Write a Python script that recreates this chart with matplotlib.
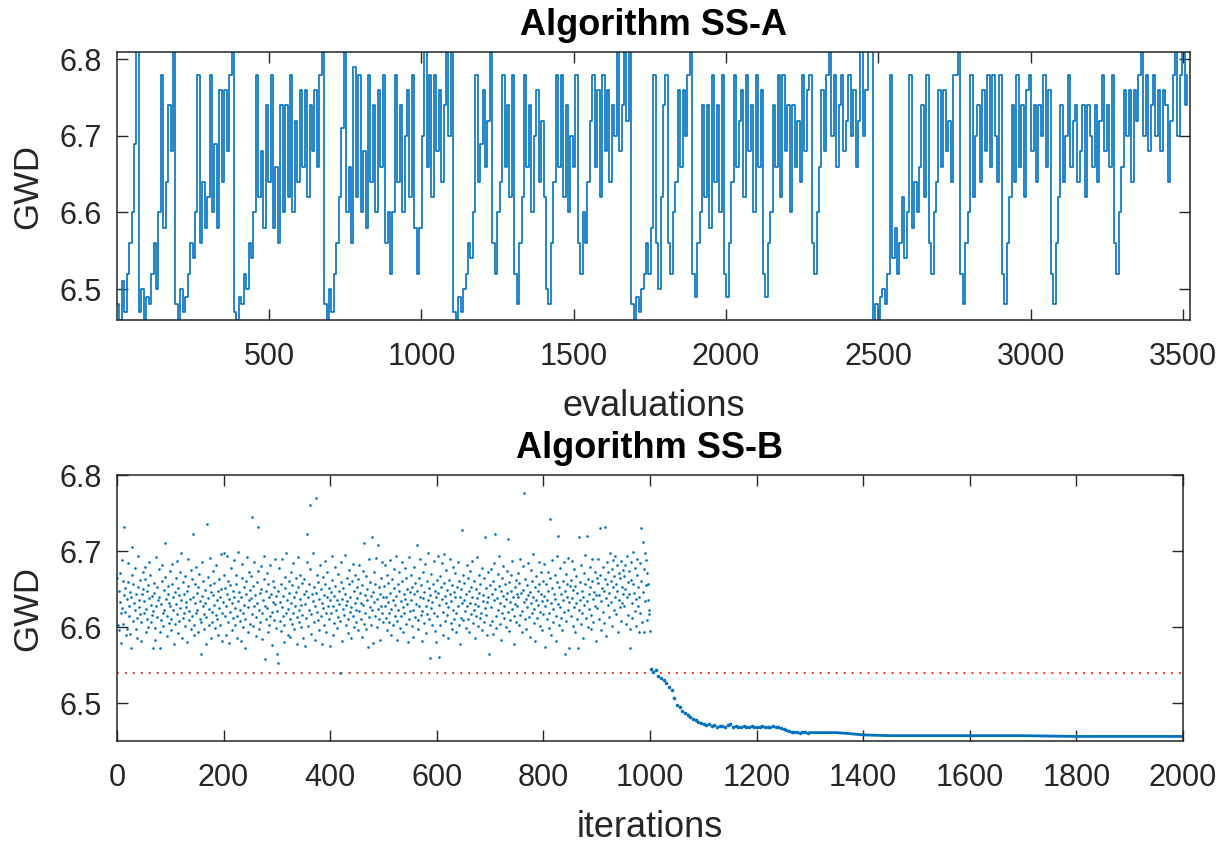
import numpy as np
import matplotlib
matplotlib.use('Agg')
import matplotlib.pyplot as plt

plt.rcParams['font.family'] = ['Liberation Sans', 'DejaVu Sans']

# ---- top panel: GWD per evaluation (one value every 8 evaluations), split at restarts
seg1 = [6.48, 6.46, 6.51, 6.47, 6.52, 6.56, 6.60, 6.69, 6.83]
seg2 = [6.47, 6.50, 6.46, 6.49, 6.48, 6.52, 6.56, 6.50, 6.60, 6.78, 6.58, 6.64, 6.74, 6.68, 6.83]
seg3 = [6.48, 6.46, 6.50, 6.47, 6.49, 6.52, 6.56, 6.54, 6.60, 6.78, 6.56, 6.64, 6.58, 6.62,
        6.78, 6.60, 6.69, 6.58, 6.76, 6.64, 6.76, 6.68, 6.78, 6.83]
seg4 = [6.47, 6.46, 6.49, 6.48, 6.52, 6.50, 6.56, 6.54, 6.60, 6.78, 6.62, 6.68, 6.58, 6.74,
        6.64, 6.78, 6.58, 6.66, 6.56, 6.74, 6.60, 6.74, 6.62, 6.78, 6.60, 6.72, 6.64, 6.76,
        6.66, 6.76, 6.62, 6.74, 6.68, 6.76, 6.66, 6.78, 6.83]
seg5 = [6.48, 6.46, 6.50, 6.47, 6.52, 6.56, 6.62, 6.71, 6.83, 6.60, 6.66, 6.56, 6.79, 6.62,
        6.78, 6.60, 6.68, 6.58, 6.78, 6.64, 6.74, 6.60, 6.76, 6.66, 6.78, 6.56, 6.60, 6.52,
        6.60, 6.78, 6.64, 6.74, 6.60, 6.70, 6.76, 6.62, 6.78, 6.58, 6.52, 6.58, 6.70, 6.83,
        6.66, 6.78, 6.62, 6.78, 6.68, 6.76, 6.64, 6.74, 6.83, 6.70, 6.83]
seg6 = [6.47, 6.46, 6.49, 6.47, 6.50, 6.52, 6.56, 6.54, 6.60, 6.78, 6.64, 6.69, 6.76, 6.66,
        6.72, 6.83, 6.56, 6.52, 6.60, 6.64, 6.78, 6.66, 6.74, 6.62, 6.78, 6.52, 6.48, 6.56,
        6.62, 6.78, 6.66, 6.74, 6.60, 6.70, 6.76, 6.64, 6.72, 6.62, 6.50, 6.48, 6.56, 6.64,
        6.78, 6.66, 6.78, 6.62, 6.74, 6.60, 6.70, 6.66, 6.78, 6.56, 6.52, 6.60, 6.56, 6.64,
        6.72, 6.78, 6.66, 6.76, 6.62, 6.78, 6.68, 6.76, 6.64, 6.74, 6.70, 6.83, 6.68, 6.74,
        6.83, 6.72, 6.83]
seg7 = [6.48, 6.46, 6.49, 6.47, 6.50, 6.52, 6.56, 6.52, 6.58, 6.78, 6.56, 6.50, 6.62, 6.74,
        6.78, 6.56, 6.52, 6.60, 6.64, 6.76, 6.66, 6.76, 6.70, 6.78, 6.83, 6.52, 6.49, 6.56,
        6.60, 6.74, 6.62, 6.74, 6.58, 6.78, 6.64, 6.74, 6.60, 6.78, 6.52, 6.49, 6.56, 6.64,
        6.78, 6.66, 6.72, 6.76, 6.62, 6.78, 6.68, 6.74, 6.60, 6.78, 6.66, 6.76, 6.52, 6.49,
        6.56, 6.60, 6.74, 6.66, 6.78, 6.62, 6.78, 6.68, 6.74, 6.60, 6.74, 6.66, 6.72, 6.64,
        6.78, 6.68, 6.76, 6.78, 6.56, 6.52, 6.60, 6.66, 6.76, 6.68, 6.78, 6.83, 6.70, 6.78,
        6.66, 6.74, 6.78, 6.68, 6.72, 6.78, 6.70, 6.76, 6.66, 6.72, 6.83, 6.70, 6.76, 6.83,
        6.83]
seg8 = [6.46, 6.48, 6.46, 6.49, 6.50, 6.48, 6.52, 6.78, 6.54, 6.58, 6.52, 6.56, 6.62, 6.54,
        6.60, 6.78, 6.58, 6.64, 6.60, 6.66, 6.74, 6.62, 6.78, 6.56, 6.52, 6.60, 6.64, 6.76,
        6.66, 6.76, 6.68, 6.72, 6.64, 6.78, 6.78, 6.83, 6.52, 6.48, 6.56, 6.60, 6.78, 6.62,
        6.70, 6.74, 6.64, 6.76, 6.68, 6.78, 6.66, 6.78, 6.70, 6.64, 6.78, 6.52, 6.48, 6.56,
        6.62, 6.74, 6.64, 6.78, 6.66, 6.74, 6.62, 6.76, 6.78, 6.68, 6.74, 6.64, 6.74, 6.70,
        6.78, 6.66, 6.76, 6.52, 6.48, 6.56, 6.62, 6.74, 6.64, 6.70, 6.78, 6.66, 6.72, 6.74,
        6.64, 6.68, 6.74, 6.62, 6.74, 6.70, 6.66, 6.74, 6.64, 6.72, 6.78, 6.68, 6.74, 6.66,
        6.78, 6.56, 6.52, 6.60, 6.66, 6.76, 6.70, 6.76, 6.64, 6.76, 6.72, 6.78, 6.83, 6.70,
        6.78, 6.68, 6.74, 6.78, 6.70, 6.76, 6.68, 6.76, 6.74, 6.64, 6.72, 6.78, 6.83, 6.70,
        6.78, 6.83, 6.74, 6.78]
eval_step = 8

# ---- bottom panel: GWD per iteration, iterations 1..1000 (random phase)
gwd_rand = [
    6.665, 6.602, 6.596, 6.648, 6.671, 6.633, 6.579, 6.618, 6.625, 6.688, 6.661, 6.604, 6.642, 6.732, 6.651, 6.620, 6.589, 6.597, 6.637, 6.659, 6.684, 6.628, 6.614, 6.646, 6.591, 6.573, 6.639, 6.668, 6.705, 6.656, 6.608, 6.631, 6.622, 6.677, 6.643, 6.598, 6.585, 6.612, 6.653, 6.694, 6.636, 6.626, 6.617, 6.662, 6.607, 6.581, 6.644, 6.672, 6.650, 6.619,
    6.634, 6.663, 6.679, 6.624, 6.593, 6.610, 6.647, 6.655, 6.600, 6.638, 6.686, 6.669, 6.629, 6.606, 6.616, 6.641, 6.573, 6.621, 6.658, 6.645, 6.599, 6.583, 6.627, 6.692, 6.652, 6.613, 6.635, 6.676, 6.640, 6.594, 6.573, 6.609, 6.630, 6.660, 6.682, 6.618, 6.601, 6.649, 6.623, 6.711, 6.666, 6.637, 6.588, 6.615, 6.654, 6.643, 6.605, 6.632, 6.674, 6.628,
    6.596, 6.611, 6.657, 6.683, 6.639, 6.622, 6.578, 6.604, 6.646, 6.664, 6.630, 6.687, 6.617, 6.592, 6.651, 6.642, 6.608, 6.625, 6.673, 6.698, 6.636, 6.586, 6.612, 6.659, 6.619, 6.644, 6.667, 6.601, 6.633, 6.626, 6.580, 6.648, 6.690, 6.654, 6.609, 6.621, 6.637, 6.675, 6.597, 6.614, 6.663, 6.723, 6.640, 6.603, 6.589, 6.631, 6.656, 6.618, 6.679, 6.645,
    6.623, 6.593, 6.652, 6.670, 6.634, 6.611, 6.565, 6.606, 6.641, 6.685, 6.660, 6.627, 6.598, 6.617, 6.649, 6.632, 6.577, 6.613, 6.736, 6.666, 6.638, 6.602, 6.624, 6.655, 6.691, 6.646, 6.585, 6.620, 6.607, 6.642, 6.674, 6.629, 6.658, 6.599, 6.616, 6.681, 6.636, 6.610, 6.590, 6.647, 6.663, 6.625, 6.603, 6.639, 6.696, 6.650, 6.619, 6.582, 6.633, 6.668,
    6.697, 6.651, 6.614, 6.589, 6.628, 6.694, 6.643, 6.606, 6.661, 6.637, 6.579, 6.620, 6.655, 6.677, 6.631, 6.596, 6.612, 6.648, 6.688, 6.640, 6.603, 6.625, 6.669, 6.657, 6.586, 6.615, 6.634, 6.699, 6.646, 6.608, 6.622, 6.581, 6.639, 6.664, 6.683, 6.618, 6.600, 6.653, 6.629, 6.572, 6.611, 6.660, 6.644, 6.692, 6.626, 6.593, 6.635, 6.672, 6.649, 6.604,
    6.638, 6.667, 6.617, 6.745, 6.654, 6.601, 6.627, 6.686, 6.642, 6.588, 6.613, 6.659, 6.632, 6.674, 6.732, 6.622, 6.597, 6.645, 6.606, 6.680, 6.650, 6.619, 6.584, 6.636, 6.663, 6.693, 6.628, 6.558, 6.610, 6.648, 6.671, 6.625, 6.594, 6.656, 6.639, 6.603, 6.615, 6.682, 6.644, 6.620, 6.576, 6.633, 6.661, 6.609, 6.652, 6.690, 6.630, 6.599, 6.641, 6.565,
    6.621, 6.553, 6.647, 6.678, 6.633, 6.608, 6.595, 6.657, 6.689, 6.626, 6.614, 6.641, 6.580, 6.602, 6.666, 6.651, 6.619, 6.697, 6.636, 6.590, 6.624, 6.660, 6.645, 6.611, 6.587, 6.672, 6.631, 6.655, 6.604, 6.618, 6.684, 6.639, 6.598, 6.627, 6.664, 6.646, 6.578, 6.613, 6.692, 6.652, 6.623, 6.607, 6.637, 6.669, 6.600, 6.629, 6.658, 6.616, 6.585, 6.644,
    6.663, 6.630, 6.575, 6.612, 6.648, 6.685, 6.722, 6.639, 6.601, 6.622, 6.657, 6.676, 6.760, 6.617, 6.591, 6.643, 6.634, 6.698, 6.653, 6.606, 6.627, 6.583, 6.645, 6.770, 6.668, 6.620, 6.609, 6.659, 6.637, 6.596, 6.681, 6.650, 6.614, 6.631, 6.577, 6.625, 6.666, 6.642, 6.603, 6.687, 6.656, 6.619, 6.593, 6.640, 6.672, 6.628, 6.610, 6.651, 6.635, 6.575,
    6.646, 6.618, 6.693, 6.662, 6.627, 6.589, 6.605, 6.641, 6.679, 6.654, 6.622, 6.599, 6.636, 6.670, 6.613, 6.648, 6.630, 6.539, 6.608, 6.659, 6.686, 6.637, 6.582, 6.624, 6.651, 6.616, 6.695, 6.643, 6.602, 6.629, 6.664, 6.634, 6.592, 6.611, 6.675, 6.656, 6.620, 6.640, 6.585, 6.626, 6.661, 6.683, 6.614, 6.647, 6.600, 6.632, 6.669, 6.623, 6.607, 6.652,
    6.638, 6.596, 6.663, 6.621, 6.681, 6.645, 6.610, 6.632, 6.587, 6.655, 6.674, 6.629, 6.604, 6.711, 6.642, 6.618, 6.667, 6.598, 6.635, 6.650, 6.574, 6.613, 6.690, 6.626, 6.659, 6.641, 6.603, 6.622, 6.718, 6.646, 6.579, 6.633, 6.672, 6.615, 6.657, 6.691, 6.637, 6.600, 6.624, 6.708, 6.653, 6.611, 6.643, 6.583, 6.628, 6.665, 6.686, 6.619, 6.639, 6.606,
    6.654, 6.681, 6.627, 6.612, 6.640, 6.596, 6.669, 6.633, 6.658, 6.606, 6.619, 6.688, 6.645, 6.590, 6.624, 6.663, 6.636, 6.602, 6.676, 6.651, 6.614, 6.629, 6.694, 6.641, 6.583, 6.608, 6.657, 6.622, 6.672, 6.648, 6.599, 6.634, 6.615, 6.685, 6.660, 6.626, 6.593, 6.643, 6.618, 6.677, 6.637, 6.604, 6.665, 6.650, 6.630, 6.580, 6.611, 6.692, 6.646, 6.621,
    6.668, 6.635, 6.601, 6.652, 6.623, 6.587, 6.644, 6.679, 6.613, 6.658, 6.630, 6.708, 6.647, 6.609, 6.597, 6.664, 6.627, 6.689, 6.640, 6.616, 6.655, 6.582, 6.621, 6.673, 6.638, 6.605, 6.646, 6.683, 6.628, 6.592, 6.660, 6.617, 6.636, 6.697, 6.651, 6.610, 6.559, 6.642, 6.625, 6.670, 6.603, 6.633, 6.656, 6.619, 6.687, 6.648, 6.595, 6.580, 6.639, 6.662,
    6.614, 6.693, 6.645, 6.560, 6.629, 6.667, 6.602, 6.652, 6.684, 6.637, 6.590, 6.620, 6.658, 6.696, 6.641, 6.608, 6.631, 6.675, 6.616, 6.649, 6.585, 6.626, 6.662, 6.690, 6.643, 6.605, 6.634, 6.655, 6.598, 6.622, 6.679, 6.646, 6.611, 6.671, 6.639, 6.593, 6.618, 6.653, 6.686, 6.627, 6.603, 6.661, 6.640, 6.578, 6.612, 6.650, 6.632, 6.728, 6.668, 6.609,
    6.636, 6.658, 6.621, 6.599, 6.644, 6.682, 6.627, 6.611, 6.665, 6.648, 6.594, 6.632, 6.674, 6.617, 6.653, 6.687, 6.640, 6.605, 6.623, 6.661, 6.630, 6.586, 6.614, 6.650, 6.692, 6.638, 6.601, 6.628, 6.669, 6.645, 6.612, 6.657, 6.619, 6.596, 6.678, 6.634, 6.642, 6.607, 6.664, 6.625, 6.718, 6.651, 6.616, 6.589, 6.633, 6.672, 6.639, 6.565, 6.603, 6.655,
    6.676, 6.626, 6.643, 6.608, 6.591, 6.660, 6.635, 6.684, 6.650, 6.722, 6.615, 6.599, 6.638, 6.670, 6.622, 6.654, 6.693, 6.631, 6.604, 6.647, 6.583, 6.618, 6.665, 6.641, 6.680, 6.628, 6.612, 6.656, 6.600, 6.637, 6.674, 6.645, 6.620, 6.716, 6.659, 6.595, 6.633, 6.609, 6.668, 6.648, 6.624, 6.687, 6.640, 6.614, 6.578, 6.652, 6.630, 6.662, 6.606, 6.644,
    6.627, 6.671, 6.639, 6.602, 6.658, 6.616, 6.690, 6.645, 6.621, 6.593, 6.649, 6.680, 6.633, 6.777, 6.610, 6.663, 6.637, 6.598, 6.626, 6.655, 6.684, 6.642, 6.613, 6.587, 6.646, 6.675, 6.631, 6.619, 6.661, 6.696, 6.640, 6.605, 6.624, 6.653, 6.581, 6.635, 6.667, 6.612, 6.648, 6.629, 6.686, 6.657, 6.601, 6.620, 6.643, 6.672, 6.634, 6.596, 6.617, 6.660,
    6.641, 6.683, 6.574, 6.628, 6.656, 6.611, 6.636, 6.673, 6.647, 6.599, 6.619, 6.742, 6.664, 6.632, 6.590, 6.651, 6.688, 6.624, 6.607, 6.644, 6.669, 6.637, 6.582, 6.615, 6.659, 6.694, 6.630, 6.720, 6.652, 6.603, 6.626, 6.678, 6.643, 6.612, 6.596, 6.661, 6.635, 6.685, 6.620, 6.564, 6.648, 6.670, 6.608, 6.639, 6.657, 6.623, 6.691, 6.573, 6.633, 6.654,
    6.615, 6.662, 6.687, 6.638, 6.601, 6.649, 6.626, 6.676, 6.654, 6.593, 6.631, 6.667, 6.610, 6.645, 6.573, 6.622, 6.719, 6.659, 6.636, 6.604, 6.681, 6.648, 6.618, 6.585, 6.640, 6.671, 6.629, 6.695, 6.656, 6.612, 6.720, 6.634, 6.600, 6.663, 6.643, 6.624, 6.679, 6.652, 6.597, 6.616, 6.660, 6.689, 6.637, 6.606, 6.646, 6.627, 6.672, 6.581, 6.642, 6.665,
    6.625, 6.658, 6.690, 6.642, 6.611, 6.730, 6.668, 6.634, 6.596, 6.651, 6.679, 6.620, 6.647, 6.605, 6.663, 6.731, 6.638, 6.588, 6.656, 6.685, 6.629, 6.672, 6.645, 6.613, 6.698, 6.660, 6.633, 6.601, 6.676, 6.652, 6.688, 6.622, 6.667, 6.640, 6.694, 6.657, 6.617, 6.682, 6.648, 6.593, 6.636, 6.671, 6.626, 6.664, 6.608, 6.687, 6.653, 6.631, 6.675, 6.644,
    6.667, 6.628, 6.681, 6.650, 6.604, 6.639, 6.693, 6.659, 6.616, 6.674, 6.643, 6.597, 6.573, 6.662, 6.685, 6.632, 6.612, 6.656, 6.699, 6.645, 6.621, 6.678, 6.601, 6.637, 6.668, 6.690, 6.627, 6.652, 6.593, 6.640, 6.684, 6.618, 6.730, 6.661, 6.606, 6.712, 6.646, 6.676, 6.593, 6.697, 6.634, 6.688, 6.655, 6.609, 6.671, 6.656, 6.635, 6.623, 6.617, 6.595,
]

# converging phase, every 5 iterations from 1001 to 1296
conv_iter_start, conv_iter_step = 1001, 5
gwd_conv = [6.545, 6.541, 6.543, 6.536, 6.533, 6.530, 6.526, 6.521, 6.517, 6.507,
            6.498, 6.495, 6.489, 6.487, 6.484, 6.481, 6.479, 6.477, 6.475, 6.474,
            6.472, 6.471, 6.472, 6.470, 6.471, 6.469, 6.470, 6.470, 6.469, 6.471,
            6.472, 6.469, 6.470, 6.468, 6.469, 6.470, 6.469, 6.468, 6.470, 6.469,
            6.468, 6.469, 6.470, 6.469, 6.468, 6.469, 6.470, 6.468, 6.469, 6.467,
            6.466, 6.464, 6.463, 6.462, 6.462, 6.462, 6.461, 6.462, 6.462, 6.461]
# settled tail
tail_iter = [1300, 1350, 1370, 1400, 1450, 1500, 1600, 1700, 1800, 1900, 2000]
tail_gwd = [6.461, 6.461, 6.460, 6.458, 6.457, 6.457, 6.457, 6.457, 6.456, 6.456, 6.456]
threshold = 6.539

blue = '#0072BD'
axcol = '#262626'

fig = plt.figure(figsize=(12.31, 8.43), dpi=100)
ax1 = fig.add_axes([0.0950, 0.6204, 0.8716, 0.3179])
ax2 = fig.add_axes([0.0950, 0.1210, 0.8660, 0.3155])

top_vals = np.array(seg1 + seg2 + seg3 + seg4 + seg5 + seg6 + seg7 + seg8)
top_x = 1 + eval_step * np.arange(len(top_vals))
ax1.plot(top_x, top_vals, color=blue, lw=1.2, drawstyle='steps-post')
ax1.set_xlim(1, 3522)
ax1.set_ylim(6.4596, 6.8095)
ax1.set_xticks([500, 1000, 1500, 2000, 2500, 3000, 3500])
ax1.set_yticks([6.5, 6.6, 6.7, 6.8])
ax1.set_title('Algorithm SS-A', fontsize=26, fontweight='bold', pad=12)
ax1.set_xlabel('evaluations', fontsize=26, color=axcol, labelpad=12)
ax1.set_ylabel('GWD', fontsize=25, color=axcol)

rand_x = np.arange(1, len(gwd_rand) + 1)
conv_x = conv_iter_start + conv_iter_step * np.arange(len(gwd_conv))
ax2.axhline(threshold, color='red', lw=1.25, linestyle=(0, (1, 3.6)))
ax2.plot(rand_x, gwd_rand, 'o', color=blue, ms=1.9, mew=0, snap=False)
ax2.plot(tail_iter, tail_gwd, '-', color=blue, lw=2.0)
ax2.plot(conv_x, gwd_conv, 'o', color=blue, ms=2.6, mew=0, snap=False)
ax2.set_xlim(0, 2000)
ax2.set_ylim(6.45, 6.80)
ax2.set_xticks(np.arange(0, 2001, 200))
ax2.set_yticks([6.5, 6.6, 6.7, 6.8])
ax2.set_title('Algorithm SS-B', fontsize=26, fontweight='bold', pad=12)
ax2.set_xlabel('iterations', fontsize=26, color=axcol, labelpad=12)
ax2.set_ylabel('GWD', fontsize=25, color=axcol)

for ax in (ax1, ax2):
    for s in ax.spines.values():
        s.set_color(axcol)
        s.set_linewidth(1.1)
    ax.tick_params(axis='both', direction='in', length=8, width=1.0, colors=axcol,
                   labelsize=22, top=True, right=True)
    ax.tick_params(axis='x', pad=16)
    ax.tick_params(axis='y', pad=11)
    ax.yaxis.set_label_coords(-0.068, 0.5)

fig.savefig('out.png', dpi=100)
